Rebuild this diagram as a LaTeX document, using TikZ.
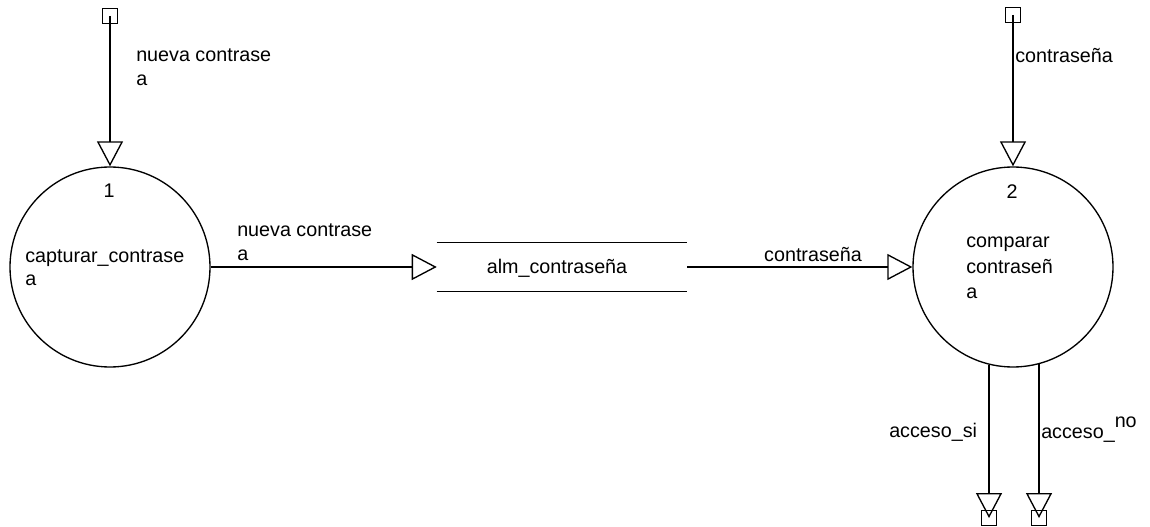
\documentclass[tikz,border=0pt]{standalone}
\usepackage{fontspec}
\setmainfont{Liberation Sans}
\usetikzlibrary{arrows.meta}
\begin{document}
\begin{tikzpicture}[x=0.75pt,y=-0.75pt,
  every node/.style={font=\fontsize{14.8pt}{17pt}\selectfont},
  txt/.style={inner sep=0pt, anchor=base west},
  txtc/.style={inner sep=0pt, anchor=base},
  proc/.style={circle, draw, line width=1pt, minimum size=150pt, inner sep=0pt},
  term/.style={rectangle, draw, line width=1pt, minimum size=11.25pt, inner sep=0pt},
  flow/.style={line width=1pt, -{Triangle[open, length=18.75pt, width=19.5pt, line width=1pt]}},
  storeline/.style={line width=1pt}]
\useasboundingbox (0,0) rectangle (1150,527);
% processes
\node[proc] (c1) at (110,267) {};
\node[proc] (c2) at (1013,267) {};
% store
\node[minimum width=187.5pt, minimum height=36.75pt, inner sep=0pt] (st) at (562,267) {};
\draw[storeline] (st.north west) -- (st.north east);
\draw[storeline] (st.south west) -- (st.south east);
\node[txtc] (stl) at (557,274) {alm\_contraseña};
% terminators
\node[term] (s1) at (110,16) {};
\node[term] (s2) at (1013,15) {};
\node[term] (k1) at (989,518) {};
\node[term] (k2) at (1039,518) {};
% flows
\draw[flow] (s1.center) -- (c1.north);
\draw[flow] (s2.center) -- (c2.north);
\draw[flow] (c1.east) -- (st.west);
\draw[flow] (st.east) -- (c2.west);
\draw[flow] (c2.-104 -| k1) -- (k1.center);
\draw[flow] (c2.-75 -| k2) -- (k2.center);
% labels
\node[txt] (l1a) at (136,62) {nueva contrase};
\node[txt] (l1b) at (136,86) {a};
\node[txtc] (n1) at (109,198) {1};
\node[txt] (p1a) at (25,263) {capturar\_contrase};
\node[txt] (p1b) at (25,286) {a};
\node[txt] (l2a) at (237,237) {nueva contrase};
\node[txt] (l2b) at (237,261) {a};
\node[txtc] (l3) at (813,262) {contraseña};
\node[txt] (l4) at (1015,63) {contraseña};
\node[txtc] (n2) at (1012,199) {2};
\node[txt] (p2a) at (966,248) {comparar};
\node[txt] (p2b) at (966,274) {contraseñ};
\node[txt] (p2c) at (966,299) {a};
\node[txt] (l5) at (889,437) {acceso\_si};
\node[txt] (l6) at (1041,438) {acceso\_\raisebox{8pt}{no}};
\end{tikzpicture}
\end{document}
